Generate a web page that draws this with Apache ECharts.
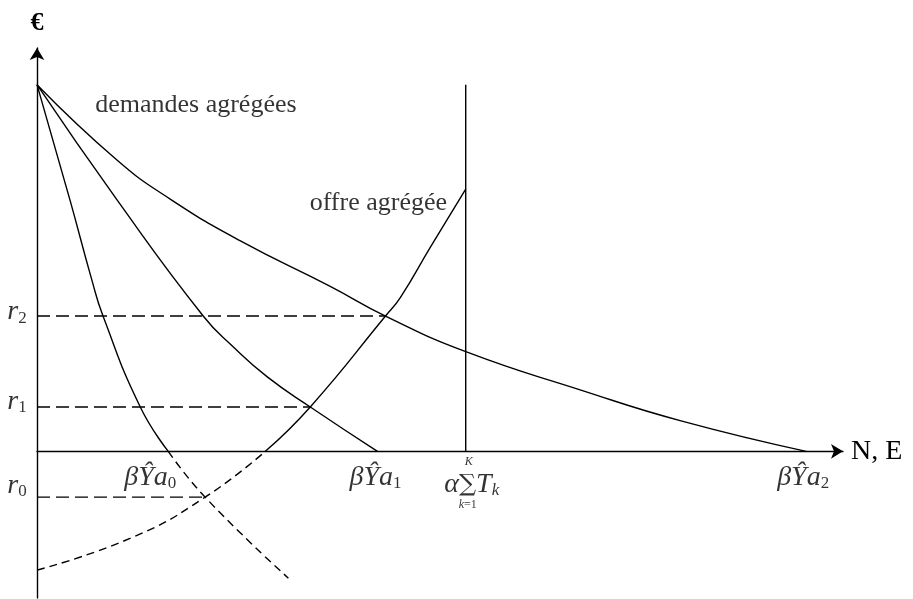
<!DOCTYPE html>
<html lang="fr">
<head>
    <meta charset="UTF-8" />
    <title>Offre et demandes agrégées</title>
    <script src="https://cdn.jsdelivr.net/npm/echarts@6/dist/echarts.min.js"></script>
</head>
<body style="margin:0;background:#fff;">
    <div id="chart" style="width:913px;height:599px;"></div>
    <script type="text/javascript">
        // points : [quantité, prix]
        var demand0 = [[0, 10], [0.86, 6.85], [1.43, 4.67], [1.72, 3.69], [2.69, 1.21], [3.42, 0]];
        var demand0Ext = [[3.42, 0], [4.38, -1.25], [6.55, -3.46]];
        var demand1 = [[0, 10], [2.09, 6.85], [4.33, 3.69], [5.11, 2.85], [6.00, 2.03], [7.12, 1.21], [8.87, 0]];
        var demand2 = [[0, 10], [2.09, 7.94], [3.47, 6.88], [5.30, 5.74], [7.64, 4.50], [9.08, 3.69],
            [11.19, 2.71], [14.17, 1.67], [16.78, 0.83], [20.04, 0]];
        var supplyLow = [[0, -3.24], [2.50, -2.34], [4.38, -1.25], [5.95, 0]];
        var supply = [[5.95, 0], [7.12, 1.21], [9.08, 3.69], [9.47, 4.20], [10.25, 5.57], [11.17, 7.15]];
        var capacity = 11.17;     // alpha * somme des T_k
        var capTop = 10;
        var rates = [-1.25, 1.21, 3.69];          // r0, r1, r2
        var rateEnds = [4.38, 7.12, 9.08];        // intersections
        var quantities = [3.42, 8.87, 20.04];     // beta Y a0, a1, a2

        var serif = 'Liberation Serif';
        var black = '#000';

        function curve(name, data, dashed) {
            return {
                name: name,
                type: 'line',
                data: data,
                smooth: 0.5,
                showSymbol: false,
                symbol: 'none',
                lineStyle: { color: black, width: 1.4, type: dashed ? [8, 5] : 'solid' }
            };
        }

        function straight(data, dash) {
            return {
                type: 'line',
                data: data,
                showSymbol: false,
                symbol: 'none',
                lineStyle: { color: black, width: 1.4, type: dash || 'solid' }
            };
        }

        var rich = {
            m: { fontFamily: serif, fontStyle: 'italic', fontSize: 28, color: black },
            s: { fontFamily: serif, fontSize: 17, color: black, padding: [12, 0, 0, 0] },
            si: { fontFamily: serif, fontStyle: 'italic', fontSize: 17, color: black, padding: [12, 0, 0, 0] },
            sum: { fontFamily: 'DejaVu Serif', fontSize: 24, color: black },
            t: { fontFamily: serif, fontSize: 12, color: black },
            ti: { fontFamily: serif, fontStyle: 'italic', fontSize: 12, color: black },
            plain: { fontFamily: serif, fontSize: 26, color: black }
        };

        function note(x, y, text, offset) {
            return {
                value: [x, y],
                label: {
                    show: true, position: 'inside', formatter: text, offset: offset, rich: rich,
                    color: black, textBorderWidth: 0, textShadowBlur: 0
                }
            };
        }

        var notes = [
            note(0, rates[2], '{m|r}{s|2}', [-20, -4]),
            note(0, rates[1], '{m|r}{s|1}', [-20, -5]),
            note(0, rates[0], '{m|r}{s|0}', [-20, -12]),
            note(quantities[0], 0, '{m|βŶa}{s|0}', [-18, 26]),
            note(quantities[1], 0, '{m|βŶa}{s|1}', [-2, 26]),
            note(quantities[2], 0, '{m|βŶa}{s|2}', [-3, 26]),
            note(capacity, 0, '{m|α}{sum|∑}{m|T}{si|k}', [6, 33]),
            note(capacity, 0, '{ti|K}', [3, 11]),
            note(capacity, 0, '{ti|k}{t|=1}', [2, 54]),
            note(1.43, 9.44, '{plain|demandes agrégées}', [104, 0]),
            note(7.07, 6.77, '{plain|offre agrégée}', [70, 0])
        ];

        var series = [
            curve('D0', demand0, false),
            curve('D0 ext', demand0Ext, true),
            curve('D1', demand1, false),
            curve('D2', demand2, false),
            curve('S low', supplyLow, true),
            curve('S', supply, false),
            straight([[capacity, 0], [capacity, capTop]])
        ];
        for (var i = 0; i < rates.length; i++) {
            series.push(straight([[0, rates[i]], [rateEnds[i], rates[i]]], [13, 6]));
        }
        series.push({
            type: 'scatter',
            symbolSize: 0,
            data: notes,
            z: 5
        });

        var chart = echarts.init(document.getElementById('chart'));
        var option = {
            animation: false,
            backgroundColor: '#fff',
            grid: { left: 37, right: 70, top: 48, bottom: 1 },
            xAxis: {
                type: 'value',
                min: 0,
                max: 21,
                name: 'N, E',
                nameLocation: 'end',
                nameGap: 8,
                nameTextStyle: { fontFamily: serif, fontSize: 28, color: black },
                axisLine: {
                    onZero: true,
                    symbol: ['none', 'arrow'],
                    symbolSize: [11, 12],
                    lineStyle: { color: black, width: 1.4 }
                },
                axisTick: { show: false },
                axisLabel: { show: false },
                splitLine: { show: false }
            },
            yAxis: {
                type: 'value',
                min: -4,
                max: 11,
                name: '€',
                nameLocation: 'end',
                nameGap: 12,
                nameTextStyle: { fontFamily: serif, fontSize: 26, fontWeight: 'bold', color: black, align: 'center' },
                axisLine: {
                    onZero: false,
                    symbol: ['none', 'arrow'],
                    symbolSize: [11, 12],
                    lineStyle: { color: black, width: 1.4 }
                },
                axisTick: { show: false },
                axisLabel: { show: false },
                splitLine: { show: false }
            },
            series: series
        };
        chart.setOption(option, true);
    </script>
</body>
</html>
